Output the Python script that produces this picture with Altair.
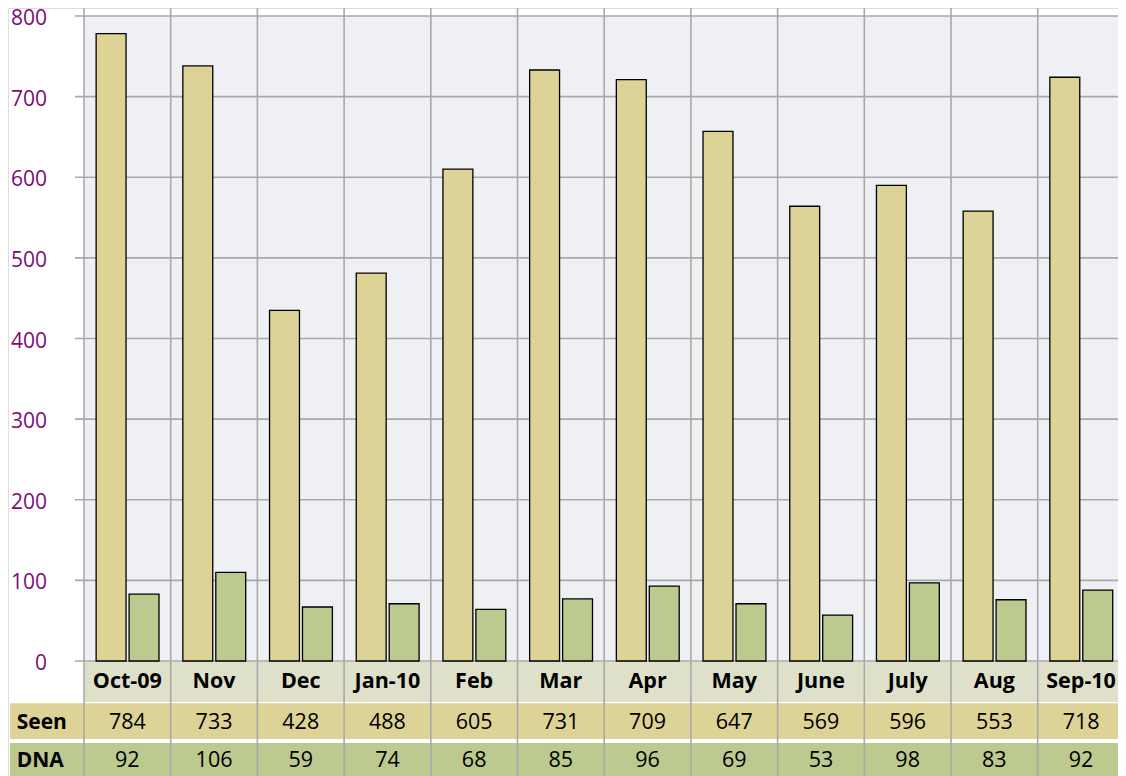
import altair as alt
import pandas as pd

months = ["Oct-09", "Nov", "Dec", "Jan-10", "Feb", "Mar", "Apr", "May",
          "June", "July", "Aug", "Sep-10"]
# bar heights as drawn
seen_bar = [778, 738, 435, 481, 610, 733, 721, 657, 564, 590, 558, 724]
dna_bar = [83, 110, 67, 71, 64, 77, 93, 71, 57, 97, 76, 88]
# values printed in the table
seen_table = [784, 733, 428, 488, 605, 731, 709, 647, 569, 596, 553, 718]
dna_table = [92, 106, 59, 74, 68, 85, 96, 69, 53, 98, 83, 92]
y_ticks = [0, 100, 200, 300, 400, 500, 600, 700, 800]
row_names = ["Seen", "DNA"]

FONT = "Open Sans"
SEEN_C = "#ddd396"
DNA_C = "#bcc98f"
HEAD_C = "#dfe0ca"
GRID_C = "#a9a9a9"

W, H = 1110, 768
XMIN, XMAX = -0.8766, 11.926
YMIN, YMAX = -142.6, 809.9
HEAD = (-1.0, -50.9)
SEEN_R = (-52.3, -96.7)
DNA_R = (-101.7, -142.6)

xs = alt.Scale(domain=[XMIN, XMAX], nice=False, zero=False)
ys = alt.Scale(domain=[YMIN, YMAX], nice=False, zero=False)


def X(f):
    return alt.X(f, type="quantitative", scale=xs, axis=None)


def Y(f):
    return alt.Y(f, type="quantitative", scale=ys, axis=None)


bars = pd.DataFrame({
    "month": months * 2,
    "idx": list(range(12)) * 2,
    "kind": ["Seen"] * 12 + ["DNA"] * 12,
    "value": seen_bar + dna_bar,
})
bars["x"] = bars["idx"] + bars["kind"].map({"Seen": 0.14, "DNA": 0.52})
bars["x2"] = bars["x"] + 0.345
bars["base"] = 0

bands = pd.DataFrame({
    "name": ["plot", "head", "Seen", "DNA"],
    "x": [0, 0, -0.8535, -0.8535],
    "x2": [XMAX, XMAX, XMAX, XMAX],
    "y": [0, HEAD[0], SEEN_R[0], DNA_R[0]],
    "y2": [800, HEAD[1], SEEN_R[1], DNA_R[1]],
    "color": ["#eff0f3", HEAD_C, SEEN_C, DNA_C],
})

band_layer = alt.Chart(bands).mark_rect().encode(
    x=X("x"), x2="x2", y=Y("y"), y2="y2",
    color=alt.Color("color:N", scale=None),
)

hg = pd.DataFrame({"v": y_ticks})
hg["x"] = -0.104
hg["x2"] = XMAX
hgrid = alt.Chart(hg).mark_rule(color=GRID_C, strokeWidth=1.6).encode(
    x=X("x"), x2="x2", y=Y("v"))

vg = pd.DataFrame({"i": list(range(12))})
vg["y"] = YMIN
vg["y2"] = YMAX
vgrid = alt.Chart(vg).mark_rule(color=GRID_C, strokeWidth=1.6).encode(
    x=X("i"), y=Y("y"), y2="y2")

bar_layer = alt.Chart(bars).mark_rect(stroke="black", strokeWidth=1.3).encode(
    x=X("x"), x2="x2", y=Y("value"), y2="base",
    color=alt.Color("kind:N", scale=alt.Scale(domain=["Seen", "DNA"],
                                              range=[SEEN_C, DNA_C]),
                    legend=None),
)

yl = pd.DataFrame({"v": y_ticks})
yl["x"] = -0.4268
ylab = alt.Chart(yl).mark_text(
    font=FONT, fontSize=21, color="#7b0d72", align="right",
    baseline="alphabetic", dy=9
).encode(x=X("x"), y=Y("v"), text="v:Q")

tab = pd.DataFrame({
    "idx": list(range(12)) * 3,
    "text": months + [str(v) for v in seen_table] + [str(v) for v in dna_table],
    "row": ["head"] * 12 + ["Seen"] * 12 + ["DNA"] * 12,
})
tab["xc"] = tab["idx"] + 0.5
# baseline positions of the table texts
tab["yc"] = tab["row"].map({"head": -34.0, "Seen": -84.0, "DNA": -131.5})

head_text = alt.Chart(tab[tab.row == "head"]).mark_text(
    font=FONT, fontSize=21.5, fontWeight="bold", color="black",
    baseline="alphabetic"
).encode(x=X("xc"), y=Y("yc"), text="text:N")

val_text = alt.Chart(tab[tab.row != "head"]).mark_text(
    font=FONT, fontSize=21.5, color="black", baseline="alphabetic"
).encode(x=X("xc"), y=Y("yc"), text="text:N")

rows = pd.DataFrame({"name": row_names, "yc": [-84.0, -131.5]})
rows["x"] = -0.776
row_text = alt.Chart(rows).mark_text(
    font=FONT, fontSize=21, fontWeight="bold", color="black",
    align="left", baseline="alphabetic"
).encode(x=X("x"), y=Y("yc"), text="name:N")

chart = alt.layer(
    band_layer, hgrid, vgrid, bar_layer, ylab, head_text, val_text, row_text
).properties(
    width=W, height=H, padding=0, autosize="none",
).configure_view(stroke=None).configure(background="white")

chart.save("out.html", embed_options={"renderer": "svg", "actions": False})
